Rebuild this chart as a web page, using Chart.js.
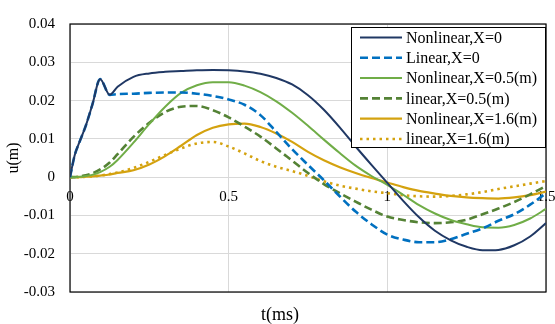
<!DOCTYPE html>
<html>
<head>
<meta charset="utf-8">
<script src="https://cdn.jsdelivr.net/npm/chart.js@4.4.1/dist/chart.umd.min.js"></script>
<style>
  html, body { margin: 0; padding: 0; background: #fff; }
  #wrap { width: 555px; height: 324px; }
</style>
</head>
<body>
<div id="wrap"><canvas id="chart"></canvas></div>
<script>
// time axis (ms), finer near the start for the X=0 spike
const tMs = [0, 0.015, 0.03, 0.05, 0.07, 0.095, 0.125,
    0.15, 0.2, 0.25, 0.3, 0.35, 0.4, 0.45, 0.5, 0.55, 0.6, 0.65, 0.7,
    0.75, 0.8, 0.85, 0.9, 0.95, 1.0, 1.05, 1.1, 1.15, 1.2, 1.25, 1.3,
    1.35, 1.4, 1.45, 1.5];

// u (m)
const nonlinX0 = [0, 0.0058, 0.0092, 0.0135, 0.0188, 0.0256, 0.0215,
    0.0236, 0.0262, 0.0271, 0.0275, 0.0277, 0.0279, 0.0280, 0.0279, 0.0276, 0.0270, 0.0259, 0.0242,
    0.0214, 0.0176, 0.0130, 0.0080, 0.0032, -0.0015, -0.0062, -0.0105, -0.0140, -0.0165, -0.0182, -0.0191,
    -0.0190, -0.0178, -0.0155, -0.0120];
const linX0 = [0, 0.0058, 0.0092, 0.0135, 0.0188, 0.0256, 0.0215,
    0.0217, 0.0218, 0.0220, 0.0221, 0.0221, 0.0218, 0.0212, 0.0203, 0.0189, 0.0162, 0.0118, 0.0073,
    0.0032, -0.0008, -0.0050, -0.0090, -0.0123, -0.0150, -0.0163, -0.0170, -0.0170, -0.0162, -0.0148, -0.0134,
    -0.0114, -0.0097, -0.0072, -0.0042];
const nonlinX05 = [0, 0, 0.0001, 0.0003, 0.0006, 0.0013, 0.0027,
    0.0045, 0.0090, 0.0139, 0.0184, 0.0220, 0.0240, 0.0248, 0.0248, 0.0239, 0.0222, 0.0198, 0.0168,
    0.0134, 0.0098, 0.0063, 0.0030, 0.0003, -0.0020, -0.0046, -0.0073, -0.0095, -0.0112, -0.0123, -0.0131,
    -0.0132, -0.0125, -0.0108, -0.0083];
const linX05 = [0, 0, 0.0002, 0.0005, 0.0010, 0.0020, 0.0038,
    0.0060, 0.0105, 0.0142, 0.0170, 0.0184, 0.0186, 0.0175, 0.0156, 0.0132, 0.0106, 0.0075, 0.0043,
    0.0011, -0.0018, -0.0042, -0.0064, -0.0085, -0.0103, -0.0112, -0.0118, -0.0120, -0.0118, -0.0111, -0.0097,
    -0.0082, -0.0065, -0.0045, -0.0023];
const nonlinX16 = [0, 0, 0, 0.0001, 0.0002, 0.0004, 0.0007,
    0.0011, 0.0018, 0.0033, 0.0055, 0.0082, 0.0110, 0.0129, 0.0138, 0.0140, 0.0131, 0.0114, 0.0092,
    0.0066, 0.0044, 0.0026, 0.0011, -0.0002, -0.0014, -0.0026, -0.0036, -0.0043, -0.0049, -0.0053, -0.0055,
    -0.0056, -0.0053, -0.0047, -0.0038];
const linX16 = [0, 0, 0, 0.0001, 0.0002, 0.0004, 0.0008,
    0.0012, 0.0024, 0.0040, 0.0058, 0.0075, 0.0088, 0.0092, 0.0080, 0.0062, 0.0042, 0.0027, 0.0016,
    0.0003, -0.0011, -0.0022, -0.0030, -0.0037, -0.0042, -0.0047, -0.0050, -0.0051, -0.0049, -0.0045, -0.0039,
    -0.0031, -0.0024, -0.0017, -0.0010];

const seriesLabels = ['Nonlinear,X=0', 'Linear,X=0', 'Nonlinear,X=0.5(m)',
    'linear,X=0.5(m)', 'Nonlinear,X=1.6(m)', 'linear,X=1.6(m)'];

const serif = '"Liberation Serif", "Times New Roman", serif';

function pts(values) {
    return values.map((v, i) => ({ x: tMs[i], y: v }));
}

function makeSet(label, values, color, width, dash) {
    return {
        label: label,
        data: pts(values),
        borderColor: color,
        borderWidth: width,
        borderDash: dash,
        pointRadius: 0,
        fill: false,
        cubicInterpolationMode: 'monotone'
    };
}

// black frame round the plot area
const framePlugin = {
    id: 'frame',
    beforeDatasetsDraw(chart) {
        const { ctx, chartArea: a } = chart;
        ctx.save();
        ctx.strokeStyle = '#000';
        ctx.lineWidth = 1.2;
        ctx.strokeRect(a.left, a.top, a.right - a.left, a.bottom - a.top);
        ctx.restore();
    }
};

// boxed legend in the upper right corner
const legendBox = {
    id: 'legendBox',
    afterDraw(chart) {
        const { ctx, chartArea: a } = chart;
        const w = 194, h = 120, rowH = 20.3;
        const x = a.right - w - 1, y = a.top + 3;
        ctx.save();
        ctx.fillStyle = '#fff';
        ctx.fillRect(x, y, w, h);
        ctx.strokeStyle = '#000';
        ctx.lineWidth = 1;
        ctx.strokeRect(x + 0.5, y + 0.5, w, h);
        ctx.font = '16px ' + serif;
        ctx.textBaseline = 'middle';
        chart.data.datasets.forEach((ds, i) => {
            const cy = y + 10.5 + i * rowH;
            ctx.strokeStyle = ds.borderColor;
            ctx.lineWidth = ds.borderWidth;
            ctx.setLineDash(ds.borderDash || []);
            ctx.beginPath();
            ctx.moveTo(x + 9, cy);
            ctx.lineTo(x + 51, cy);
            ctx.stroke();
            ctx.setLineDash([]);
            ctx.fillStyle = '#000';
            ctx.fillText(ds.label, x + 55, cy + 1);
        });
        ctx.restore();
    }
};

new Chart(document.getElementById('chart'), {
    type: 'line',
    data: {
        datasets: [
            makeSet(seriesLabels[0], nonlinX0, '#203864', 2, []),
            makeSet(seriesLabels[1], linX0, '#0070C0', 2.6, [8, 4]),
            makeSet(seriesLabels[2], nonlinX05, '#70AD47', 2, []),
            makeSet(seriesLabels[3], linX05, '#548235', 2.6, [8, 4]),
            makeSet(seriesLabels[4], nonlinX16, '#D4A20F', 2.2, []),
            makeSet(seriesLabels[5], linX16, '#D4A20F', 2.6, [2.5, 4])
        ]
    },
    options: {
        responsive: true,
        maintainAspectRatio: false,
        animation: false,
        // left padding shifts the bottom title to the right; the y axis gives it back
        layout: { padding: { top: 16, right: 9, left: 14, bottom: 0 } },
        plugins: {
            legend: { display: false },
            tooltip: { enabled: false },
            title: {
                display: true,
                position: 'bottom',
                text: 't(ms)',
                color: '#000',
                font: { family: serif, size: 18, weight: 'normal', lineHeight: 1.0 },
                padding: { top: 14, bottom: 0 }
            }
        },
        scales: {
            x: {
                type: 'linear',
                min: 0,
                max: 1.5,
                position: { y: 0 },
                border: { display: false },
                grid: { color: '#d9d9d9', lineWidth: 1, drawTicks: false },
                ticks: {
                    stepSize: 0.5,
                    padding: 11,
                    color: '#000',
                    font: { family: serif, size: 15 },
                    maxRotation: 0,
                    callback: v => String(Number(v.toFixed(2)))
                },
                afterFit(scale) {
                    scale.paddingLeft = 0;
                    scale.paddingRight = 0;
                }
            },
            y: {
                min: -0.03,
                max: 0.04,
                border: { display: false },
                grid: { color: '#d9d9d9', lineWidth: 1, drawTicks: false },
                ticks: {
                    stepSize: 0.01,
                    padding: 15,
                    color: '#000',
                    font: { family: serif, size: 15 },
                    callback: v => String(Number(v.toFixed(2)))
                },
                title: {
                    display: true,
                    text: 'u(m)',
                    color: '#000',
                    font: { family: serif, size: 16 },
                    padding: { top: -10, bottom: 0 }
                },
                afterFit(scale) {
                    scale.width = 56;
                }
            }
        }
    },
    plugins: [framePlugin, legendBox]
});
</script>
</body>
</html>
